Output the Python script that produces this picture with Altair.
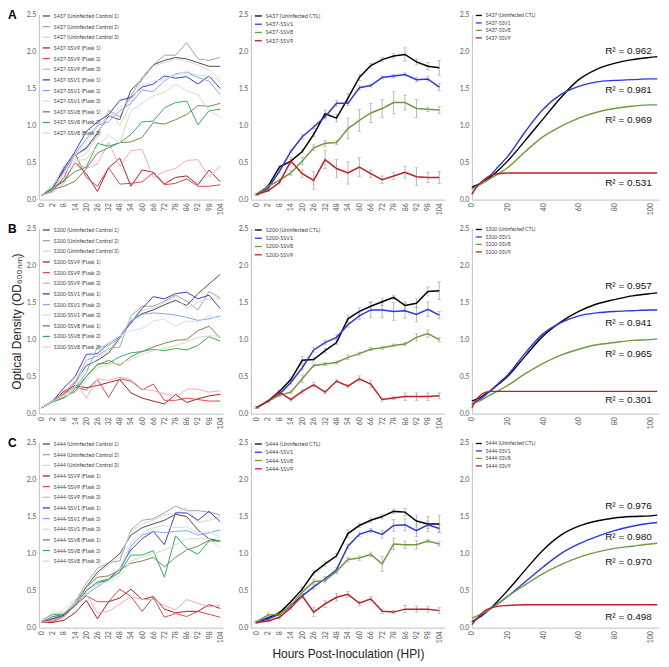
import altair as alt
import pandas as pd

HOURS = [0, 2, 8, 14, 20, 26, 32, 48, 54, 60, 66, 72, 78, 86, 92, 98, 104]
STRAINS = ["S437", "S200", "S444"]
LETTERS = ["A", "B", "C"]

# ---------- individual flask curves (left column) ----------
A_CTL1 = [0.06, 0.15, 0.40, 0.60, 0.70, 0.90, 1.13, 1.08, 1.48, 1.62, 1.82, 1.88, 1.92, 1.90, 1.85, 1.80, 1.80]
A_CTL2 = [0.06, 0.17, 0.45, 0.60, 0.68, 0.88, 1.20, 1.12, 1.40, 1.65, 1.82, 1.95, 1.95, 2.12, 1.90, 1.88, 1.92]
A_CTL3 = [0.06, 0.20, 0.42, 0.55, 0.62, 0.85, 1.22, 1.00, 1.30, 1.62, 1.80, 1.85, 1.90, 1.87, 1.82, 1.75, 1.62]
A_V9F1 = [0.06, 0.15, 0.25, 0.50, 0.35, 0.11, 0.43, 0.56, 0.18, 0.40, 0.37, 0.21, 0.30, 0.32, 0.20, 0.40, 0.24]
A_V9F2 = [0.06, 0.12, 0.30, 0.62, 0.30, 0.18, 0.43, 0.21, 0.22, 0.24, 0.36, 0.20, 0.22, 0.28, 0.18, 0.18, 0.20]
A_V9F3 = [0.06, 0.10, 0.22, 0.50, 0.42, 0.48, 0.77, 0.45, 0.66, 0.68, 0.30, 0.38, 0.42, 0.53, 0.54, 0.31, 0.45]
A_V1F1 = [0.06, 0.15, 0.42, 0.65, 0.92, 1.05, 1.15, 1.34, 1.38, 1.52, 1.56, 1.67, 1.64, 1.66, 1.56, 1.67, 1.50]
A_V1F2 = [0.06, 0.12, 0.38, 0.62, 0.82, 1.00, 1.05, 1.20, 1.30, 1.48, 1.46, 1.60, 1.70, 1.72, 1.65, 1.60, 1.42]
A_V1F3 = [0.06, 0.14, 0.35, 0.60, 0.78, 0.98, 1.10, 1.25, 1.35, 1.55, 1.60, 1.62, 1.68, 1.73, 1.68, 1.67, 1.60]
A_V8F1 = [0.06, 0.14, 0.18, 0.25, 0.42, 0.63, 0.70, 0.77, 0.78, 0.84, 1.04, 1.02, 1.08, 1.15, 1.27, 1.26, 1.30]
A_V8F2 = [0.06, 0.16, 0.26, 0.38, 0.44, 0.76, 0.72, 0.77, 0.88, 1.05, 1.06, 1.24, 1.31, 1.33, 1.01, 1.20, 1.22]
A_V8F3 = [0.06, 0.20, 0.35, 0.52, 0.55, 0.72, 0.87, 0.76, 1.20, 1.30, 1.40, 1.45, 1.56, 1.47, 1.42, 1.20, 1.12]

B_CTL1 = [0.08, 0.17, 0.27, 0.42, 0.65, 0.72, 0.82, 1.02, 1.25, 1.35, 1.40, 1.47, 1.53, 1.46, 1.62, 1.75, 1.88]
B_CTL2 = [0.08, 0.17, 0.28, 0.42, 0.72, 0.78, 0.88, 0.90, 1.32, 1.45, 1.45, 1.52, 1.60, 1.52, 1.40, 1.65, 1.56]
B_CTL3 = [0.08, 0.18, 0.30, 0.40, 0.60, 0.75, 0.85, 1.05, 1.28, 1.40, 1.42, 1.50, 1.58, 1.42, 1.50, 1.55, 1.55]
B_V9F1 = [0.08, 0.17, 0.30, 0.38, 0.35, 0.38, 0.42, 0.46, 0.28, 0.21, 0.17, 0.13, 0.26, 0.15, 0.20, 0.24, 0.26]
B_V9F2 = [0.08, 0.17, 0.27, 0.36, 0.32, 0.46, 0.22, 0.47, 0.44, 0.32, 0.40, 0.18, 0.18, 0.21, 0.19, 0.17, 0.17]
B_V9F3 = [0.08, 0.18, 0.28, 0.44, 0.21, 0.47, 0.45, 0.49, 0.46, 0.33, 0.31, 0.27, 0.22, 0.33, 0.33, 0.29, 0.31]
B_V1F1 = [0.08, 0.17, 0.35, 0.50, 0.80, 0.81, 0.95, 1.04, 1.22, 1.42, 1.58, 1.55, 1.62, 1.64, 1.55, 1.60, 1.42]
B_V1F2 = [0.08, 0.16, 0.25, 0.35, 0.55, 0.90, 0.92, 1.02, 1.25, 1.34, 1.36, 1.35, 1.33, 1.30, 1.26, 1.28, 1.32]
B_V1F3 = [0.08, 0.16, 0.25, 0.36, 0.72, 0.87, 0.95, 1.05, 1.12, 1.15, 1.25, 1.28, 1.18, 1.25, 1.24, 1.32, 1.27]
B_V8F1 = [0.08, 0.16, 0.22, 0.30, 0.50, 0.66, 0.72, 0.65, 0.77, 0.84, 0.90, 0.95, 0.99, 1.00, 1.12, 1.18, 1.02]
B_V8F2 = [0.08, 0.16, 0.21, 0.33, 0.50, 0.67, 0.68, 0.77, 0.82, 0.84, 0.87, 0.85, 0.88, 0.86, 0.92, 1.04, 0.98]
B_V8F3 = [0.08, 0.17, 0.24, 0.28, 0.45, 0.62, 0.66, 0.68, 0.73, 0.80, 0.85, 0.88, 0.92, 0.97, 1.03, 1.05, 1.05]

C_CTL1 = [0.07, 0.10, 0.17, 0.30, 0.55, 0.75, 0.87, 1.00, 1.25, 1.35, 1.40, 1.45, 1.53, 1.50, 1.32, 1.20, 1.17]
C_CTL2 = [0.07, 0.12, 0.20, 0.35, 0.60, 0.80, 0.88, 0.90, 1.32, 1.45, 1.47, 1.55, 1.64, 1.58, 1.58, 1.56, 1.52]
C_CTL3 = [0.07, 0.15, 0.25, 0.38, 0.50, 0.72, 0.85, 0.95, 1.30, 1.40, 1.45, 1.52, 1.55, 1.62, 1.42, 1.45, 1.50]
C_V9F1 = [0.07, 0.07, 0.10, 0.20, 0.37, 0.12, 0.35, 0.40, 0.52, 0.38, 0.42, 0.25, 0.20, 0.22, 0.22, 0.31, 0.26]
C_V9F2 = [0.07, 0.08, 0.15, 0.30, 0.43, 0.35, 0.35, 0.52, 0.42, 0.22, 0.41, 0.14, 0.19, 0.15, 0.22, 0.18, 0.14]
C_V9F3 = [0.07, 0.10, 0.18, 0.32, 0.45, 0.20, 0.22, 0.32, 0.42, 0.38, 0.38, 0.30, 0.24, 0.38, 0.33, 0.28, 0.30]
C_V1F1 = [0.08, 0.12, 0.17, 0.30, 0.50, 0.60, 0.65, 0.80, 1.05, 1.20, 1.30, 1.12, 1.55, 1.55, 1.45, 1.57, 1.43]
C_V1F2 = [0.08, 0.14, 0.18, 0.30, 0.45, 0.55, 0.65, 0.75, 1.10, 1.25, 1.30, 1.28, 1.30, 1.31, 1.25, 1.28, 1.32]
C_V1F3 = [0.08, 0.15, 0.20, 0.33, 0.50, 0.60, 0.68, 0.80, 1.15, 1.28, 1.35, 1.38, 1.35, 1.36, 1.28, 1.30, 1.22]
C_V8F1 = [0.08, 0.15, 0.18, 0.33, 0.55, 0.68, 0.70, 0.78, 0.87, 0.90, 0.95, 0.82, 0.95, 1.05, 1.10, 1.18, 1.17]
C_V8F2 = [0.10, 0.18, 0.18, 0.30, 0.50, 0.62, 0.65, 0.75, 0.98, 0.98, 1.04, 0.68, 1.24, 1.07, 0.99, 1.17, 1.17]
C_V8F3 = [0.10, 0.20, 0.20, 0.33, 0.47, 0.58, 0.62, 0.70, 0.90, 0.95, 1.00, 1.05, 1.12, 1.20, 1.20, 1.20, 1.07]

LEFT_SERIES = [
    [A_CTL1, A_CTL2, A_CTL3, A_V9F1, A_V9F2, A_V9F3, A_V1F1, A_V1F2, A_V1F3, A_V8F1, A_V8F2, A_V8F3],
    [B_CTL1, B_CTL2, B_CTL3, B_V9F1, B_V9F2, B_V9F3, B_V1F1, B_V1F2, B_V1F3, B_V8F1, B_V8F2, B_V8F3],
    [C_CTL1, C_CTL2, C_CTL3, C_V9F1, C_V9F2, C_V9F3, C_V1F1, C_V1F2, C_V1F3, C_V8F1, C_V8F2, C_V8F3],
]
LEFT_SUFFIX = [" (Uninfected Control 1)", " (Uninfected Control 2)", " (Uninfected Control 3)",
               "-SSV9 (Flask 1)", "-SSV9 (Flask 2)", "-SSV9 (Flask 3)",
               "-SSV1 (Flask 1)", "-SSV1 (Flask 2)", "-SSV1 (Flask 3)",
               "-SSV8 (Flask 1)", "-SSV8 (Flask 2)", "-SSV8 (Flask 3)"]
LEFT_COLORS = ["#4d4d4d", "#a3a3a3", "#d6d6d6", "#b01c22", "#e0474c", "#f4a9b8",
               "#3b3bd6", "#80a8e8", "#c8e2f4", "#77854c", "#2fae62", "#d8dcc0"]

# ---------- means with error (middle column) ----------
A_CTL = [0.07, 0.18, 0.44, 0.52, 0.65, 0.88, 1.16, 1.10, 1.37, 1.65, 1.81, 1.89, 1.94, 1.96, 1.86, 1.80, 1.78]
A_SSV1 = [0.07, 0.15, 0.38, 0.65, 0.85, 0.98, 1.12, 1.30, 1.30, 1.51, 1.54, 1.65, 1.67, 1.69, 1.62, 1.63, 1.52]
A_SSV8 = [0.07, 0.18, 0.26, 0.36, 0.52, 0.70, 0.76, 0.77, 0.96, 1.07, 1.17, 1.23, 1.31, 1.31, 1.23, 1.22, 1.21]
A_SSV9 = [0.07, 0.12, 0.23, 0.52, 0.35, 0.26, 0.54, 0.42, 0.36, 0.44, 0.35, 0.27, 0.32, 0.37, 0.31, 0.30, 0.30]
A_CTL_E = [0.01, 0.01, 0.02, 0.02, 0.02, 0.03, 0.05, 0.05, 0.06, 0.04, 0.03, 0.03, 0.03, 0.09, 0.04, 0.05, 0.10]
A_SSV1_E = [0.01, 0.01, 0.02, 0.02, 0.03, 0.02, 0.03, 0.04, 0.03, 0.03, 0.02, 0.02, 0.02, 0.02, 0.03, 0.03, 0.05]
A_SSV8_E = [0.01, 0.01, 0.02, 0.03, 0.05, 0.04, 0.04, 0.03, 0.14, 0.15, 0.13, 0.12, 0.15, 0.10, 0.12, 0.03, 0.05]
A_SSV9_E = [0.01, 0.01, 0.02, 0.05, 0.05, 0.12, 0.12, 0.12, 0.15, 0.13, 0.05, 0.05, 0.05, 0.08, 0.12, 0.07, 0.08]

B_CTL = [0.08, 0.17, 0.30, 0.46, 0.72, 0.73, 0.85, 0.96, 1.28, 1.38, 1.45, 1.51, 1.57, 1.46, 1.49, 1.65, 1.66]
B_SSV1 = [0.08, 0.17, 0.26, 0.42, 0.62, 0.86, 0.96, 1.03, 1.20, 1.32, 1.40, 1.40, 1.38, 1.39, 1.34, 1.41, 1.33]
B_SSV8 = [0.08, 0.17, 0.25, 0.29, 0.47, 0.65, 0.67, 0.69, 0.76, 0.81, 0.87, 0.89, 0.92, 0.94, 1.03, 1.08, 1.00]
B_SSV9 = [0.08, 0.17, 0.29, 0.19, 0.30, 0.39, 0.29, 0.44, 0.37, 0.47, 0.40, 0.19, 0.21, 0.23, 0.23, 0.23, 0.24]
B_CTL_E = [0.01, 0.01, 0.02, 0.02, 0.05, 0.03, 0.03, 0.03, 0.05, 0.05, 0.06, 0.05, 0.03, 0.05, 0.06, 0.06, 0.12]
B_SSV1_E = [0.01, 0.01, 0.02, 0.02, 0.03, 0.03, 0.03, 0.03, 0.03, 0.05, 0.10, 0.10, 0.12, 0.10, 0.10, 0.10, 0.05]
B_SSV8_E = [0.01, 0.01, 0.02, 0.02, 0.05, 0.02, 0.02, 0.02, 0.03, 0.02, 0.02, 0.02, 0.02, 0.02, 0.05, 0.05, 0.03]
B_SSV9_E = [0.01, 0.01, 0.02, 0.02, 0.03, 0.03, 0.02, 0.02, 0.02, 0.04, 0.05, 0.02, 0.02, 0.05, 0.05, 0.05, 0.04]

C_CTL = [0.07, 0.13, 0.20, 0.35, 0.52, 0.74, 0.86, 0.97, 1.27, 1.38, 1.45, 1.50, 1.57, 1.56, 1.44, 1.40, 1.40]
C_SSV1 = [0.07, 0.12, 0.18, 0.30, 0.43, 0.55, 0.66, 0.78, 1.10, 1.26, 1.31, 1.26, 1.38, 1.39, 1.31, 1.39, 1.34]
C_SSV8 = [0.08, 0.17, 0.18, 0.30, 0.48, 0.62, 0.64, 0.76, 0.92, 0.94, 0.99, 0.86, 1.13, 1.12, 1.12, 1.17, 1.13]
C_SSV9 = [0.07, 0.09, 0.14, 0.27, 0.43, 0.21, 0.32, 0.41, 0.45, 0.33, 0.39, 0.22, 0.21, 0.25, 0.25, 0.25, 0.23]
C_CTL_E = [0.01, 0.01, 0.02, 0.02, 0.03, 0.03, 0.03, 0.03, 0.05, 0.03, 0.03, 0.03, 0.03, 0.05, 0.08, 0.10, 0.12]
C_SSV1_E = [0.01, 0.01, 0.02, 0.02, 0.03, 0.03, 0.03, 0.03, 0.03, 0.03, 0.03, 0.05, 0.08, 0.08, 0.08, 0.05, 0.05]
C_SSV8_E = [0.01, 0.03, 0.02, 0.02, 0.05, 0.03, 0.03, 0.03, 0.03, 0.03, 0.03, 0.10, 0.08, 0.05, 0.06, 0.02, 0.03]
C_SSV9_E = [0.01, 0.01, 0.02, 0.02, 0.03, 0.06, 0.05, 0.05, 0.04, 0.03, 0.03, 0.03, 0.02, 0.05, 0.04, 0.04, 0.04]

MID_SERIES = [[A_CTL, A_SSV1, A_SSV8, A_SSV9], [B_CTL, B_SSV1, B_SSV8, B_SSV9], [C_CTL, C_SSV1, C_SSV8, C_SSV9]]
MID_ERRORS = [[A_CTL_E, A_SSV1_E, A_SSV8_E, A_SSV9_E], [B_CTL_E, B_SSV1_E, B_SSV8_E, B_SSV9_E],
              [C_CTL_E, C_SSV1_E, C_SSV8_E, C_SSV9_E]]
MID_SUFFIX = [" (Uninfected CTL)", "-SSV1", "-SSV8", "-SSV9"]
MID_COLORS = ["#000000", "#2b36e8", "#6f9a3f", "#c41e24"]

# ---------- fitted curves (right column) ----------
T_FIT = [0, 2, 5, 8, 10, 15, 20, 30, 40, 50, 60, 70, 80, 90, 100, 104]
A_FIT_CTL = [0.17, 0.19, 0.22, 0.27, 0.30, 0.40, 0.52, 0.80, 1.09, 1.38, 1.62, 1.76, 1.84, 1.89, 1.92, 1.93]
A_FIT_SSV1 = [0.15, 0.18, 0.22, 0.28, 0.32, 0.45, 0.58, 0.92, 1.22, 1.42, 1.53, 1.59, 1.61, 1.62, 1.63, 1.63]
A_FIT_SSV8 = [0.15, 0.17, 0.21, 0.25, 0.28, 0.35, 0.43, 0.65, 0.85, 0.99, 1.10, 1.18, 1.23, 1.26, 1.28, 1.28]
A_FIT_SSV9 = [0.07, 0.15, 0.23, 0.29, 0.32, 0.35, 0.36, 0.36, 0.36, 0.36, 0.36, 0.36, 0.36, 0.36, 0.36, 0.36]
B_FIT_CTL = [0.17, 0.19, 0.22, 0.27, 0.30, 0.40, 0.50, 0.78, 1.05, 1.24, 1.38, 1.48, 1.54, 1.59, 1.62, 1.63]
B_FIT_SSV1 = [0.13, 0.16, 0.20, 0.26, 0.30, 0.41, 0.52, 0.82, 1.08, 1.23, 1.32, 1.36, 1.38, 1.39, 1.40, 1.40]
B_FIT_SSV8 = [0.12, 0.15, 0.18, 0.22, 0.25, 0.31, 0.38, 0.54, 0.68, 0.79, 0.87, 0.93, 0.96, 0.99, 1.00, 1.01]
B_FIT_SSV9 = [0.08, 0.17, 0.25, 0.29, 0.30, 0.30, 0.30, 0.30, 0.30, 0.30, 0.30, 0.30, 0.30, 0.30, 0.30, 0.30]
C_FIT_CTL = [0.08, 0.11, 0.15, 0.21, 0.25, 0.37, 0.50, 0.78, 1.05, 1.25, 1.37, 1.44, 1.48, 1.50, 1.51, 1.52]
C_FIT_SSV1 = [0.08, 0.11, 0.16, 0.21, 0.25, 0.33, 0.42, 0.62, 0.82, 1.00, 1.13, 1.23, 1.31, 1.37, 1.41, 1.42]
C_FIT_SSV8 = [0.13, 0.15, 0.18, 0.22, 0.25, 0.33, 0.42, 0.58, 0.73, 0.85, 0.95, 1.02, 1.07, 1.10, 1.13, 1.14]
C_FIT_SSV9 = [0.04, 0.10, 0.18, 0.24, 0.26, 0.29, 0.30, 0.31, 0.31, 0.31, 0.31, 0.31, 0.31, 0.31, 0.31, 0.31]
FIT_SERIES = [[A_FIT_CTL, A_FIT_SSV1, A_FIT_SSV8, A_FIT_SSV9],
              [B_FIT_CTL, B_FIT_SSV1, B_FIT_SSV8, B_FIT_SSV9],
              [C_FIT_CTL, C_FIT_SSV1, C_FIT_SSV8, C_FIT_SSV9]]

R2_TEXT = [["R² = 0.962", "R² = 0.981", "R² = 0.969", "R² = 0.531"],
           ["R² = 0.957", "R² = 0.941", "R² = 0.965", "R² = 0.301"],
           ["R² = 0.976", "R² = 0.980", "R² = 0.970", "R² = 0.498"]]
R2_Y = [[2.01, 1.48, 1.07, 0.23], [1.72, 1.23, 0.80, 0.18], [1.64, 1.22, 0.88, 0.14]]
R2_X = 101

Y_TITLE = "Optical Density (OD₆₀₀ₙₘ)"
X_TITLE = "Hours Post-Inoculation (HPI)"
Y_TICKS = [0.0, 0.5, 1.0, 1.5, 2.0, 2.5]
FIT_TICKS = [0, 20, 40, 60, 80, 100]

W_LEFT, W_MID, W_RIGHT, H = 185, 195, 188, 186
AXIS_GRAY = "#bfbfbf"
LABEL_FONT = "Lato"


def y_axis(title_opacity=None):
    kw = dict(values=Y_TICKS, format=".1f", labelFontSize=7, labelColor="#595959",
              labelFont=LABEL_FONT, ticks=False, domainColor=AXIS_GRAY, grid=False, labelPadding=3,
              labelOverlap=False, labelFlush=False)
    if title_opacity is None:
        kw["title"] = None
    else:
        kw.update(title=Y_TITLE, titleFontSize=12, titleFont="Liberation Sans", titleFontWeight="normal",
                  titleColor="#222222", titlePadding=3, titleOpacity=title_opacity)
    return alt.Axis(**kw)


def x_axis(values=None, show_title=False, fmt=None):
    kw = dict(labelAngle=-90, labelFontSize=7, labelColor="#595959", labelFont=LABEL_FONT, ticks=False,
              domainColor=AXIS_GRAY, grid=False, labelPadding=3, labelOverlap=False, labelFlush=False)
    if values is not None:
        kw["values"] = values
    if fmt:
        kw["format"] = fmt
    if show_title:
        kw.update(title=X_TITLE, titleFontSize=12, titleFont="Liberation Sans", titleFontWeight="normal",
                  titleColor="#222222", titlePadding=6)
    else:
        kw["title"] = None
    return alt.Axis(**kw)


def legend(font, sym, rowpad):
    return alt.Legend(title=None, orient="none", legendX=3, legendY=-3, symbolType="stroke",
                      symbolSize=sym, symbolStrokeWidth=1.3, labelFontSize=font, labelFont=LABEL_FONT,
                      labelColor="#404040", rowPadding=rowpad, labelLimit=0, padding=0, labelOffset=3)


def yscale():
    return alt.Scale(domain=[0, 2.5], nice=False)


def left_panel(r):
    strain = STRAINS[r]
    names = [strain + s for s in LEFT_SUFFIX]
    rows = []
    for k, (nm, vals) in enumerate(zip(names, LEFT_SERIES[r])):
        for i, (h, v) in enumerate(zip(HOURS, vals)):
            rows.append({"series": nm, "hour": h, "od": v, "i": i, "k": k})
    df = pd.DataFrame(rows)
    lines = alt.Chart(df).mark_line(strokeWidth=1).encode(
        x=alt.X("hour:O", scale=alt.Scale(type="point", padding=0.25), axis=x_axis()),
        y=alt.Y("od:Q", scale=yscale(), axis=y_axis(1 if r == 1 else 0)),
        color=alt.Color("series:N", scale=alt.Scale(domain=names, range=LEFT_COLORS),
                        legend=legend(5.3, 49, 2.7)),
        order=alt.Order("i:Q"),
    )
    letter = alt.Chart(pd.DataFrame({"t": [LETTERS[r]]})).mark_text(
        align="left", baseline="top", fontSize=12, fontWeight="bold", font="Liberation Sans", color="#000"
    ).encode(text="t:N", x=alt.value(-31), y=alt.value(-4))
    return alt.layer(lines, letter).properties(width=W_LEFT, height=H)


def mid_panel(r):
    strain = STRAINS[r]
    names = [strain + s for s in MID_SUFFIX]
    rows = []
    for k, (nm, vals, errs) in enumerate(zip(names, MID_SERIES[r], MID_ERRORS[r])):
        for i, (h, v, e) in enumerate(zip(HOURS, vals, errs)):
            rows.append({"series": nm, "hour": h, "od": v, "lo": v - e, "hi": v + e, "i": i})
    df = pd.DataFrame(rows)

    def xenc():
        return alt.X("hour:O", scale=alt.Scale(type="point", padding=0.5), axis=x_axis(show_title=(r == 2)))

    def yenc(field):
        return alt.Y(field, scale=yscale(), axis=y_axis())

    base = alt.Chart(df)
    err = base.mark_rule(color="#a6a6a6", strokeWidth=0.8).encode(x=xenc(), y=yenc("lo:Q"), y2="hi:Q")
    cap_lo = base.mark_tick(color="#a6a6a6", thickness=0.8, size=4).encode(x=xenc(), y=yenc("lo:Q"))
    cap_hi = base.mark_tick(color="#a6a6a6", thickness=0.8, size=4).encode(x=xenc(), y=yenc("hi:Q"))
    lines = base.mark_line(strokeWidth=1.5).encode(
        x=xenc(), y=yenc("od:Q"),
        color=alt.Color("series:N", scale=alt.Scale(domain=names, range=MID_COLORS),
                        legend=legend(5.5, 49, 0.3)),
        order=alt.Order("i:Q"),
    )
    return alt.layer(err, cap_lo, cap_hi, lines).properties(width=W_MID, height=H)


def right_panel(r):
    strain = STRAINS[r]
    names = [strain + s for s in MID_SUFFIX]
    rows = []
    for nm, vals in zip(names, FIT_SERIES[r]):
        for i, (t, v) in enumerate(zip(T_FIT, vals)):
            rows.append({"series": nm, "t": t, "od": v, "i": i})
    df = pd.DataFrame(rows)

    def xenc(field):
        return alt.X(field, scale=alt.Scale(domain=[0, 105], nice=False),
                     axis=x_axis(values=FIT_TICKS, fmt="d"))

    lines = alt.Chart(df).mark_line(strokeWidth=1.4, interpolate="monotone").encode(
        x=xenc("t:Q"), y=alt.Y("od:Q", scale=yscale(), axis=y_axis()),
        color=alt.Color("series:N", scale=alt.Scale(domain=names, range=MID_COLORS),
                        legend=legend(5, 36, 0.5)),
        order=alt.Order("i:Q"),
    )
    tdf = pd.DataFrame({"label": R2_TEXT[r], "y": R2_Y[r], "x": [R2_X] * 4})
    texts = alt.Chart(tdf).mark_text(align="right", baseline="middle", fontSize=10,
                                     font="Liberation Sans", color="#111").encode(
        x=xenc("x:Q"), y=alt.Y("y:Q", scale=yscale(), axis=y_axis()), text="label:N")
    return alt.layer(lines, texts).properties(width=W_RIGHT, height=H)


rows = []
for r in range(3):
    row = alt.hconcat(left_panel(r), mid_panel(r), right_panel(r), spacing=14).resolve_scale(
        color="independent", x="independent", y="independent").resolve_legend(color="independent")
    rows.append(row)

chart = alt.vconcat(*rows, spacing=8).resolve_scale(
    color="independent", x="independent", y="independent").resolve_legend(color="independent").properties(
    padding=0).configure_view(stroke=None)

chart.save("out.html", embed_options={"renderer": "svg", "actions": False})
